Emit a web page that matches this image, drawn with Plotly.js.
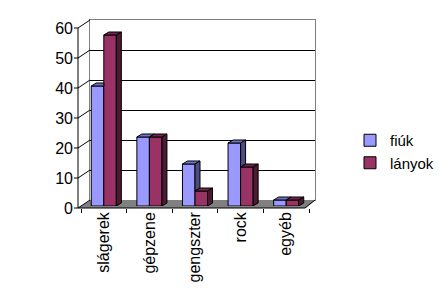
<!DOCTYPE html>
<html><head><meta charset="utf-8">
<script src="https://cdn.plot.ly/plotly-3.0.1.min.js"></script>
<style>html,body{margin:0;padding:0;background:#fff}</style>
</head><body>
<div id="chart" style="width:439px;height:300px"></div>
<script>
const categories = ['slágerek', 'gépzene', 'gengszter', 'rock', 'egyéb'];
const fiuk = [40, 23, 14, 21, 2];
const lanyok = [57, 23, 5, 13, 2];
const seriesNames = ['fiúk', 'lányok'];
const yTicks = [0, 10, 20, 30, 40, 50, 60];

const W = 439, H = 300;
const L = 78, R = 124, T = 20, B = 92;
const PW = W - L - R, PH = H - T - B;       // paper 237 x 188
const DX = 12, DY = 8;                        // back-wall offset in px
const BAR_W = 0.275;
const catPx = (PW - 3 - 6) / categories.length;
const bw = BAR_W * catPx;
const unitPx = 180 / 60;
const dx = 5, dy = 3;                         // bar depth in px

const colF = '#9999FF', colFtop = '#7373C9', colFside = '#4D4D80';
const colL = '#993366', colLtop = '#732650', colLside = '#4D1A33';
const font = {family: 'Arial, Liberation Sans, sans-serif', size: 16, color: '#000'};

const traces = [
  {type: 'scatter', x: [], y: [], xaxis: 'x', yaxis: 'y', showlegend: false, hoverinfo: 'skip'},
  {type: 'bar', name: seriesNames[0], x: categories, y: fiuk, xaxis: 'x2', yaxis: 'y2',
   width: BAR_W, offset: -BAR_W, marker: {color: colF, line: {color: '#000', width: 1}}},
  {type: 'bar', name: seriesNames[1], x: categories, y: lanyok, xaxis: 'x2', yaxis: 'y2',
   width: BAR_W, offset: 0, marker: {color: colL, line: {color: '#000', width: 1}}}
];

function poly(pts) { return 'M' + pts.map(p => p[0].toFixed(2) + ',' + p[1].toFixed(2)).join(' L') + ' Z'; }
function pxShape(xa, ya, pts, fill) {
  return {type: 'path', xref: 'x2', yref: 'y2', xsizemode: 'pixel', ysizemode: 'pixel',
          xanchor: xa, yanchor: ya, path: poly(pts), fillcolor: fill,
          line: {color: '#000', width: 1}, layer: 'above'};
}
function paperLine(x0, y0, x1, y1, color) {
  return {type: 'line', xref: 'paper', yref: 'paper', x0: x0 / PW, y0: y0 / PH, x1: x1 / PW, y1: y1 / PH,
          line: {color: color, width: 1}, layer: 'above'};
}

const shapes = [];
// floor
shapes.push({type: 'path', xref: 'paper', yref: 'paper', layer: 'below',
  path: poly([[0, 0], [DX / PW, DY / PH], [1, DY / PH], [(PW - 10) / PW, 0]]),
  fillcolor: '#808080', line: {width: 0}});
// front axis lines and side-wall edges
shapes.push(paperLine(0, 0, PW - 10, 0, '#000'));
shapes.push(paperLine(PW - 10, 0, PW, DY, '#000'));
shapes.push(paperLine(0, 0, 0, 180, '#000'));
yTicks.forEach(v => {
  const yp = v * unitPx;
  shapes.push(paperLine(-4, yp, 0, yp, '#000'));
  shapes.push(paperLine(0, yp, DX, yp + DY, '#000'));
});
// 3D faces of the bars
categories.forEach((c, i) => {
  const F = fiuk[i], Lv = lanyok[i];
  if (Lv > F) {
    shapes.push(pxShape(i, F, [[-bw, 0], [-bw + dx, dy], [0, dy], [0, 0]], colFtop));
  } else {
    shapes.push(pxShape(i, F, [[-bw, 0], [-bw + dx, dy], [dx, dy], [0, 0]], colFtop));
    if (F > Lv) {
      const h = (F - Lv) * unitPx;
      shapes.push(pxShape(i, F, [[0, 0], [dx, dy], [dx, dy - h], [0, -h]], colFside));
    }
  }
});
categories.forEach((c, i) => {
  const Lv = lanyok[i];
  const h = Lv * unitPx;
  shapes.push(pxShape(i + BAR_W, Lv, [[-bw, 0], [-bw + dx, dy], [dx, dy], [0, 0]], colLtop));
  shapes.push(pxShape(i + BAR_W, Lv, [[0, 0], [dx, dy], [dx, dy - h], [0, -h]], colLside));
});

const layout = {
  width: W, height: H,
  margin: {l: L, r: R, t: T, b: B, pad: 0, autoexpand: false},
  paper_bgcolor: '#fff', plot_bgcolor: 'rgba(0,0,0,0)',
  font: font,
  showlegend: true,
  legend: {x: (350 - L) / PW, y: (H - B - 124) / PH, xanchor: 'left', yanchor: 'top',
           font: {family: font.family, size: 15, color: '#000'}, bgcolor: 'rgba(0,0,0,0)', tracegroupgap: 0},
  xaxis: {domain: [DX / PW, 1], range: [0, 1], anchor: 'y', showgrid: false, zeroline: false,
          showticklabels: false, ticks: '', showline: true, mirror: true, linecolor: '#808080', linewidth: 1},
  yaxis: {domain: [DY / PH, 1], range: [0, 60], anchor: 'x', tickvals: [10, 20, 30, 40, 50],
          showgrid: true, gridcolor: '#000', gridwidth: 1, zeroline: false, showticklabels: false, ticks: '',
          showline: true, mirror: true, linecolor: '#808080', linewidth: 1},
  xaxis2: {domain: [3 / PW, (PW - 6) / PW], anchor: 'free', position: 0, type: 'category',
           range: [-0.5, categories.length - 0.5], showgrid: false, zeroline: false, showline: false,
           ticks: 'outside', tickson: 'boundaries', ticklen: 4, tickcolor: '#000', tickwidth: 1,
           tickangle: -90, tickfont: font},
  yaxis2: {domain: [2 / PH, 182 / PH], anchor: 'free', position: 0, range: [0, 60], dtick: 10,
           showgrid: false, zeroline: false, showline: false, ticks: '', ticklabelshift: 2,
           ticklabelstandoff: 5, tickfont: font},
  bargap: 0.45, bargroupgap: 0,
  shapes: shapes
};

Plotly.newPlot('chart', traces, layout, {staticPlot: true, displayModeBar: false});
</script>
</body></html>
